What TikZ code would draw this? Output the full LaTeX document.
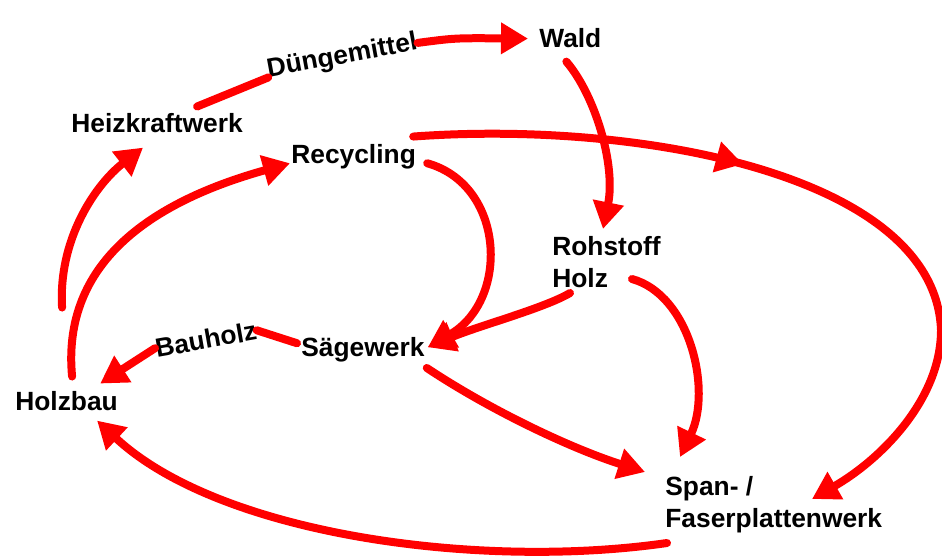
\documentclass[tikz,border=0pt]{standalone}
\usepackage{fontspec}
\setmainfont{Liberation Sans}
\usepackage{tikz}
\usetikzlibrary{arrows.meta,decorations.markings}

\begin{document}
\begin{tikzpicture}[
    x=0.02cm, y=-0.02cm,
    every node/.style = {font=\fontsize{15}{18.5}\selectfont\bfseries, inner sep=0pt},
    >={Triangle[length=0.54cm, width=0.6cm]},
    flow/.style = {red, line width=0.16cm, line cap=round},
    midarrow/.style = {postaction={decorate, decoration={markings,
        mark=at position #1 with {\arrow{>}}}}}
  ]
  \useasboundingbox (0,0) rectangle (942,557);

  % Stationen
  \node[anchor=base west] (wald) at (539,48) {Wald};
  \node[anchor=base west] (hk) at (71,133) {Heizkraftwerk};
  \node[anchor=base west] (rec) at (291,164) {Recycling};
  \node[anchor=north west, align=left] (roh) at (552,236) {Rohstoff\\Holz};
  \node[anchor=base west] (saege) at (301,356) {Sägewerk};
  \node[anchor=base west] (holzbau) at (15,410) {Holzbau};
  \node[anchor=north west, align=left] (span) at (665,476) {Span- /\\Faserplattenwerk};

  % Beschriftungen auf den Pfeilen
  \node[anchor=base, rotate=10.5] (dung) at (343.5,63.5) {Düngemittel};
  \node[anchor=base, rotate=10] (bauh) at (207.5,348.5) {Bauholz};

  % Heizkraftwerk -> Wald
  \draw[flow] ([shift={(40,-7)}]hk.north) -- (dung.base west);
  \draw[flow,->] (dung.east) .. controls (455,38) .. ([shift={(-11,0)}]wald.west);

  % Wald -> Rohstoff Holz
  \draw[flow,->] ([shift={(-4,13)}]wald.south) .. controls (595,95) and (616,165) .. ([shift={(51,-7)}]roh.north west);

  % Recycling -> Span-/Faserplattenwerk (aussen herum)
  \draw[flow,->,midarrow=0.4] ([shift={(-3,-8)}]rec.north east)
    .. controls (640,120) and (935,175) .. (941,330)
    .. controls (941,400) and (880,460) .. ([shift={(147,23)}]span.north west);

  % -> Saegewerk
  \draw[flow,->] ([shift={(11,6)}]rec.east) .. controls (505,185) and (510,300) .. ([shift={(3,-2)}]saege.east);
  \draw[flow,->] ([shift={(18,57)}]roh.north west) .. controls (545,308) and (478,326) .. ([shift={(3,-2)}]saege.east);

  % -> Span-/Faserplattenwerk
  \draw[flow,->] ([shift={(80,43)}]roh.north west) .. controls (690,295) and (712,390) .. ([shift={(15,-19)}]span.north west);
  \draw[flow,->] ([shift={(2,6)}]saege.south east) .. controls (490,410) and (570,448) .. ([shift={(-20,-4)}]span.north west);

  % -> Holzbau
  \draw[flow,->] ([shift={(2,67)}]span.north west) .. controls (480,570) and (220,535) .. ([shift={(30.5,10)}]holzbau.south);
  \draw[flow] ([shift={(-4,-6)}]saege.west) -- (bauh.east);
  \draw[flow,->] (bauh.west) -- ([shift={(-18,-7)}]holzbau.north east);

  % Holzbau -> Heizkraftwerk / Recycling
  \draw[flow,->] ([shift={(-4.5,-83)}]holzbau.north) .. controls (58,240) and (95,185) .. ([shift={(-14,14)}]hk.south);
  \draw[flow,->] ([shift={(5.5,-14)}]holzbau.north) .. controls (62,270) and (140,205) .. ([shift={(-1,6)}]rec.west);
\end{tikzpicture}
\end{document}
